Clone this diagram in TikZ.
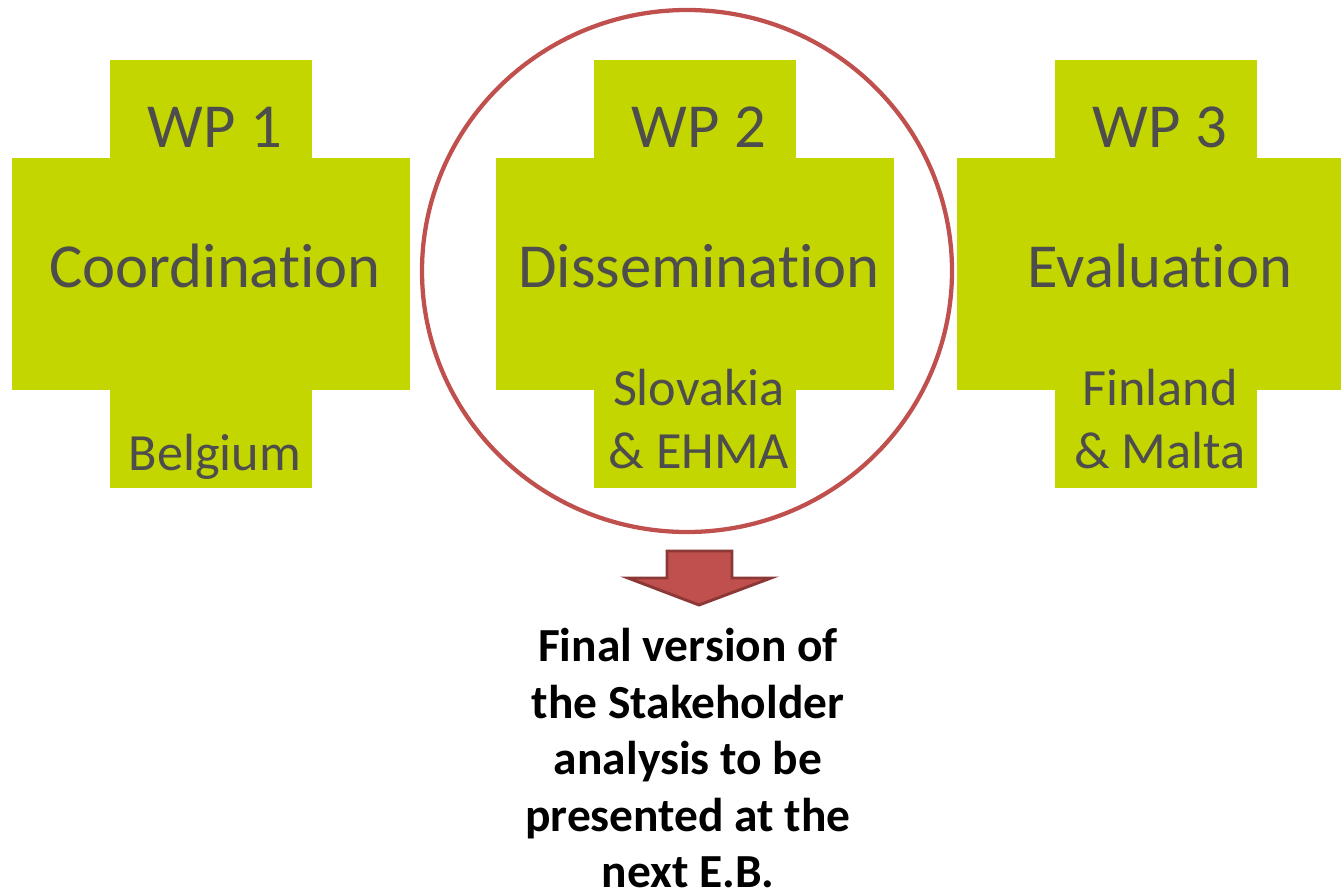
\documentclass[tikz,border=0pt]{standalone}
\usepackage{fontspec}
\setmainfont{Carlito}[RawFeature=-liga]
\definecolor{wpgreen}{RGB}{196,214,0}
\definecolor{wptext}{RGB}{77,77,77}
\definecolor{ringred}{RGB}{192,80,77}
\definecolor{arrowedge}{RGB}{140,56,54}
\begin{document}
\begin{tikzpicture}[x=0.75pt,y=-0.75pt,
  crossfill/.style={fill=wpgreen,draw=none},
  bigtxt/.style={anchor=base,inner sep=0pt,text=wptext,font=\fontsize{47}{56}\selectfont},
  smalltxt/.style={anchor=base,inner sep=0pt,text=wptext,font=\fontsize{39.2}{47}\selectfont},
  outtxt/.style={inner sep=0pt,align=center,font=\bfseries\fontsize{35.6}{42.4}\selectfont}]
\useasboundingbox (0,0) rectangle (1341,892);
% crosses
\foreach \cx in {211,695,1156}{
  \path[crossfill] (\cx-101,60) rectangle (\cx+101,488);
  \path[crossfill] (\cx-199,158) rectangle (\cx+199,390);
}
% ring
\draw[ringred,line width=3.2pt] (687,271) ellipse [x radius=265, y radius=261];
% arrow
\draw[fill=ringred,draw=arrowedge,line width=2.2pt,line join=miter]
  (667,551) -- (732,551) -- (732,578) -- (771,578) -- (699,605) -- (628,578) -- (667,578) -- cycle;
% texts WP1
\node[bigtxt] (wp1) at (215,147) {WP 1};
\node[bigtxt] (coord) at (215,287) {Coordination};
\node[smalltxt] (bel) at (215,470) {Belgium};
% WP2
\node[bigtxt] (wp2) at (699,147) {WP 2};
\node[bigtxt] (diss) at (699,287) {Dissemination};
\node[smalltxt] (slo) at (699,405) {Slovakia};
\node[smalltxt] (ehma) at (699,468) {\& EHMA};
% WP3
\node[bigtxt] (wp3) at (1160,147) {WP 3};
\node[bigtxt] (eval) at (1160,287) {Evaluation};
\node[smalltxt] (fin) at (1160,405) {Finland};
\node[smalltxt] (mal) at (1160,468) {\& Malta};
% output
\node[outtxt,anchor=north] (out) at (688,628) {Final version of\\the Stakeholder\\analysis to be\\presented at the\\next E.B.};
\end{tikzpicture}
\end{document}
